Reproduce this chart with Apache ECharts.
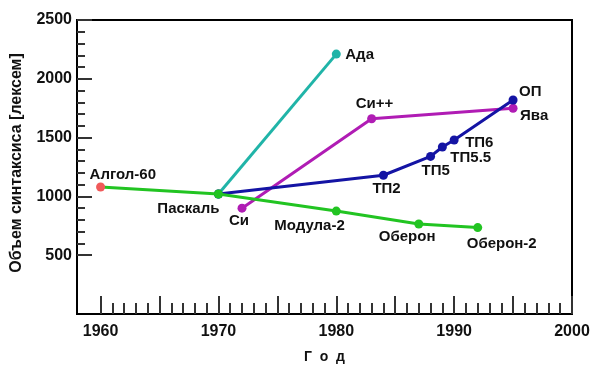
<!DOCTYPE html>
<html>
<head>
<meta charset="utf-8">
<script src="https://cdn.jsdelivr.net/npm/echarts@6/dist/echarts.min.js"></script>
<style>html,body{margin:0;padding:0;background:#fff;}#c{width:599px;height:374px;}</style>
</head>
<body>
<div id="c"></div>
<script>
// ---- data ----
const algolYears  = [1960, 1970, 1980, 1987, 1992];
const algolValues = [1080, 1020, 875, 765, 735];
const algolNames  = ['Алгол-60', 'Паскаль', 'Модула-2', 'Оберон', 'Оберон-2'];

const adaYears  = [1970, 1980];
const adaValues = [1020, 2210];
const adaNames  = ['', 'Ада'];

const cYears  = [1972, 1983, 1995];
const cValues = [900, 1660, 1750];
const cNames  = ['Си', 'Си++', 'Ява'];

const tpYears  = [1970, 1984, 1988, 1989, 1990, 1995];
const tpValues = [1020, 1180, 1340, 1420, 1480, 1820];
const tpNames  = ['', 'ТП2', 'ТП5', 'ТП5.5', 'ТП6', 'ОП'];

const xLabelTicks = [1960, 1970, 1980, 1990, 2000];
const xMajorTicks = [1960, 1965, 1970, 1975, 1980, 1985, 1990, 1995, 2000];
const xMinorTicks = [1960, 1961, 1962, 1963, 1964, 1965, 1966, 1967, 1968, 1969,
                     1970, 1971, 1972, 1973, 1974, 1975, 1976, 1977, 1978, 1979,
                     1980, 1981, 1982, 1983, 1984, 1985, 1986, 1987, 1988, 1989,
                     1990, 1991, 1992, 1993, 1994, 1995, 1996, 1997, 1998, 1999, 2000];
const yLabelTicks = [500, 1000, 1500, 2000, 2500];
const yMinorTicks = [600, 700, 800, 900, 1100, 1200, 1300, 1400, 1600, 1700, 1800, 1900,
                     2100, 2200, 2300, 2400];

// ---- label placement (style, in pixels: [dx, dy, align]) ----
const place = {
  'Алгол-60': [-11, -12, 'left'],
  'Паскаль': [1, 15, 'right'],
  'Модула-2': [-62, 15, 'left'],
  'Оберон': [-40, 13, 'left'],
  'Оберон-2': [-11, 16, 'left'],
  'Ада': [9, 1, 'left'],
  'Си': [-13, 13, 'left'],
  'Си++': [-16, -15, 'left'],
  'Ява': [7, 8, 'left'],
  'ТП2': [-11, 14, 'left'],
  'ТП5': [-9, 14, 'left'],
  'ТП5.5': [8, 11, 'left'],
  'ТП6': [11, 3, 'left'],
  'ОП': [6, -8, 'left']
};

const FONT = '"Liberation Sans", Arial, sans-serif';

function build(years, values, names, firstColor) {
  return years.map((y, i) => {
    const item = { value: [y, values[i]], name: names[i] };
    const p = place[names[i]];
    if (p) {
      item.label = { show: true, position: 'inside', offset: [p[0], p[1]], align: p[2], verticalAlign: 'middle' };
    } else {
      item.label = { show: false };
    }
    if (i === 0 && firstColor) item.itemStyle = { color: firstColor };
    return item;
  });
}

function lineSeries(data, color, z) {
  return {
    type: 'line',
    data: data,
    symbol: 'circle',
    symbolSize: 9,
    z: z,
    lineStyle: { color: color, width: 3 },
    itemStyle: { color: color },
    label: {
      show: true,
      formatter: p => p.name,
      color: '#111',
      fontFamily: FONT,
      fontWeight: 'bold',
      fontSize: 15
    },
    emphasis: { disabled: true },
    animation: false
  };
}

const plain = v => String(v);
const baseX = { type: 'value', min: 1958, max: 2000, position: 'bottom' };

const option = {
  animation: false,
  grid: { left: 77, right: 27, top: 20, bottom: 60, show: true, borderColor: '#000', borderWidth: 2, backgroundColor: 'transparent' },
  xAxis: [
    Object.assign({}, baseX, {
      name: 'Г  о  д',
      nameLocation: 'middle',
      nameGap: 36,
      nameTextStyle: { color: '#111', fontFamily: FONT, fontWeight: 'bold', fontSize: 14 },
      axisLine: { show: true, lineStyle: { color: '#000', width: 2 } },
      axisTick: { show: true, inside: true, length: 18, customValues: xMajorTicks, lineStyle: { color: '#333', width: 2 } },
      axisLabel: { show: true, customValues: xLabelTicks, formatter: plain, margin: 10, color: '#111', fontFamily: FONT, fontWeight: 'bold', fontSize: 16 },
      splitLine: { show: false }
    }),
    Object.assign({}, baseX, {
      axisLine: { show: false },
      axisTick: { show: true, inside: true, length: 11, customValues: xMinorTicks, lineStyle: { color: '#333', width: 2 } },
      axisLabel: { show: false },
      splitLine: { show: false }
    })
  ],
  yAxis: [
    {
      type: 'value', min: 0, max: 2500, position: 'left',
      name: 'Объем синтаксиса [лексем]',
      nameLocation: 'middle',
      nameRotate: 90,
      nameGap: 52,
      nameTextStyle: { color: '#111', fontFamily: FONT, fontWeight: 'bold', fontSize: 16, padding: [0, 0, 0, 8] },
      axisLine: { show: true, lineStyle: { color: '#000', width: 2 } },
      axisTick: { show: true, inside: true, length: 15, customValues: yLabelTicks, lineStyle: { color: '#333', width: 2 } },
      axisLabel: { show: true, customValues: yLabelTicks, formatter: plain, margin: 5, color: '#111', fontFamily: FONT, fontWeight: 'bold', fontSize: 16 },
      splitLine: { show: false }
    },
    {
      type: 'value', min: 0, max: 2500, position: 'left',
      axisLine: { show: false },
      axisTick: { show: true, inside: true, length: 8, customValues: yMinorTicks, lineStyle: { color: '#333', width: 2 } },
      axisLabel: { show: false },
      splitLine: { show: false }
    }
  ],
  series: [
    lineSeries(build(adaYears, adaValues, adaNames), '#20b4a8', 2),
    lineSeries(build(cYears, cValues, cNames), '#b01cb4', 3),
    lineSeries(build(tpYears, tpValues, tpNames), '#1414a4', 4),
    lineSeries(build(algolYears, algolValues, algolNames, '#f05a5a'), '#22c422', 5)
  ]
};

const chart = echarts.init(document.getElementById('c'), null, { renderer: 'canvas' });
chart.setOption(option);
</script>
</body>
</html>
